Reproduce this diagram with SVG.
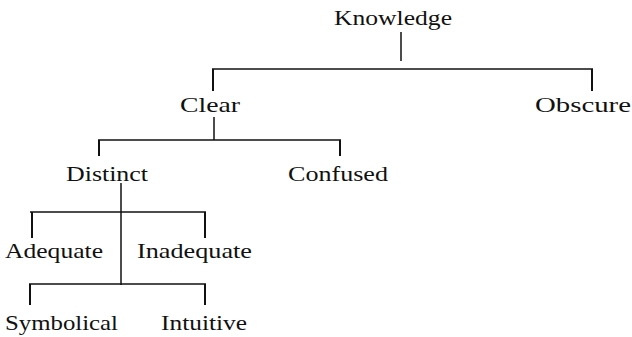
<svg xmlns="http://www.w3.org/2000/svg" width="632" height="337" viewBox="0 0 632 337">
<rect width="632" height="337" fill="#fff"/>
<g id="connectors" stroke="#111" stroke-width="1.5">
<line x1="401" y1="32" x2="401" y2="61"/>
<line x1="212" y1="69" x2="593" y2="69"/>
<line stroke-width="2" x1="213" y1="69" x2="213" y2="91"/>
<line stroke-width="2" x1="592" y1="69" x2="592" y2="91"/>
<line x1="214" y1="117" x2="214" y2="140"/>
<line x1="98" y1="140" x2="341" y2="140"/>
<line stroke-width="2" x1="99" y1="140" x2="99" y2="156"/>
<line stroke-width="2" x1="340" y1="140" x2="340" y2="156"/>
<line x1="121" y1="183" x2="121" y2="285"/>
<line x1="30" y1="212" x2="206" y2="212"/>
<line stroke-width="2" x1="32" y1="212" x2="32" y2="238"/>
<line stroke-width="2" x1="205" y1="212" x2="205" y2="238"/>
<line x1="29" y1="284" x2="206" y2="284"/>
<line stroke-width="2" x1="30" y1="284" x2="30" y2="305"/>
<line stroke-width="2" x1="205" y1="284" x2="205" y2="305"/>
</g>
<g id="knowledge"><text x="334" y="25" font-family="Liberation Serif" font-size="22" fill="#111" textLength="118" lengthAdjust="spacingAndGlyphs">Knowledge</text></g>
<g id="clear"><text x="180" y="112" font-family="Liberation Serif" font-size="22" fill="#111" textLength="60" lengthAdjust="spacingAndGlyphs">Clear</text></g>
<g id="obscure"><text x="535" y="112" font-family="Liberation Serif" font-size="22" fill="#111" textLength="96" lengthAdjust="spacingAndGlyphs">Obscure</text></g>
<g id="distinct"><text x="66" y="181" font-family="Liberation Serif" font-size="22" fill="#111" textLength="82" lengthAdjust="spacingAndGlyphs">Distinct</text></g>
<g id="confused"><text x="288" y="181" font-family="Liberation Serif" font-size="22" fill="#111" textLength="100" lengthAdjust="spacingAndGlyphs">Confused</text></g>
<g id="adequate"><text x="5" y="258" font-family="Liberation Serif" font-size="22" fill="#111" textLength="98" lengthAdjust="spacingAndGlyphs">Adequate</text></g>
<g id="inadequate"><text x="137" y="258" font-family="Liberation Serif" font-size="22" fill="#111" textLength="115" lengthAdjust="spacingAndGlyphs">Inadequate</text></g>
<g id="symbolical"><text x="5" y="330" font-family="Liberation Serif" font-size="22" fill="#111" textLength="113" lengthAdjust="spacingAndGlyphs">Symbolical</text></g>
<g id="intuitive"><text x="161" y="330" font-family="Liberation Serif" font-size="22" fill="#111" textLength="86" lengthAdjust="spacingAndGlyphs">Intuitive</text></g>
</svg>
